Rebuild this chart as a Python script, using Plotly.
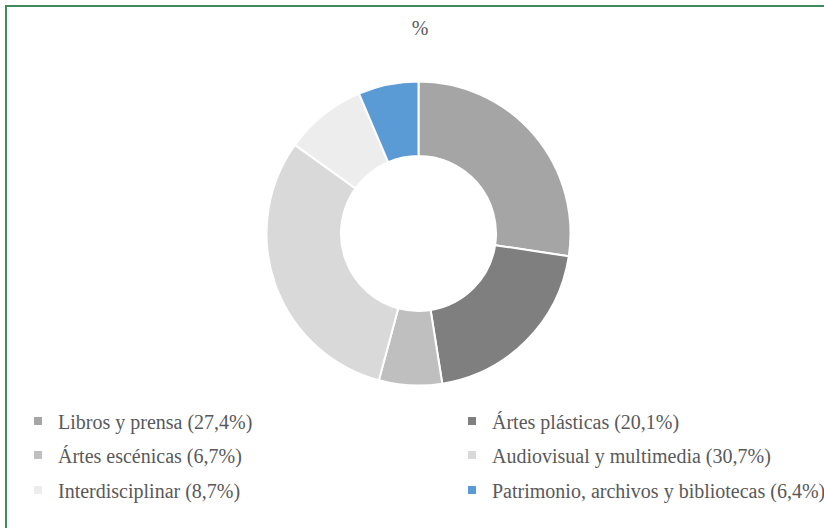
import plotly.graph_objects as go

# Datos
categorias = ["Libros y prensa", "Ártes plásticas", "Ártes escénicas",
              "Audiovisual y multimedia", "Interdisciplinar",
              "Patrimonio, archivos y bibliotecas"]
porcentajes = [27.4, 20.1, 6.7, 30.7, 8.7, 6.4]
colores = ["#A5A5A5", "#7F7F7F", "#BFBFBF", "#D9D9D9", "#EDEDED", "#5B9BD5"]

W, H = 824, 528
TXT = "#595959"
FONT = "Liberation Serif, Times New Roman, serif"

etiquetas = [f"{c} ({str(p).replace('.', ',')}%)" for c, p in zip(categorias, porcentajes)]

fig = go.Figure()

# donut
cx, cy, r = 418.5, 233.5, 152
fig.add_trace(go.Pie(
    values=porcentajes, labels=etiquetas,
    sort=False, direction="clockwise", rotation=0,
    hole=0.51,
    marker=dict(colors=colores, line=dict(color="white", width=2)),
    textinfo="none", showlegend=False,
    domain=dict(x=[(cx - r) / W, (cx + r) / W],
                y=[1 - (cy + r) / H, 1 - (cy - r) / H]),
    hovertemplate="%{label}<extra></extra>",
))

# leyenda: una leyenda por entrada (2 columnas x 3 filas)
filas_y = [421, 455, 490]
cols_x = [18, 452]
layout_legends = {}
for i, (lab, col) in enumerate(zip(etiquetas, colores)):
    name = "legend" if i == 0 else f"legend{i + 1}"
    fig.add_trace(go.Scatter(
        x=[None], y=[None], mode="markers", name=lab,
        marker=dict(symbol="square", size=8, color=col),
        legend=name, showlegend=True,
    ))
    layout_legends[name] = dict(
        orientation="h", xanchor="left", yanchor="middle",
        x=cols_x[i % 2] / W, y=1 - filas_y[i // 2] / H,
        font=dict(family=FONT, size=20, color=TXT),
        bgcolor="rgba(0,0,0,0)", itemwidth=30,
    )

fig.update_layout(
    width=W, height=H,
    margin=dict(l=0, r=0, t=0, b=0, autoexpand=False),
    paper_bgcolor="white", plot_bgcolor="white",
    font=dict(family=FONT, color=TXT),
    title=dict(text="%", x=420 / W, xanchor="center",
               y=1 - 28 / H, yanchor="middle", yref="container",
               font=dict(family=FONT, size=20, color=TXT)),
    xaxis=dict(visible=False), yaxis=dict(visible=False),
    **layout_legends,
)

# borde verde del área del gráfico (recortado a la derecha y abajo)
fig.add_shape(type="rect", xref="paper", yref="paper",
              x0=6 / W, x1=1.1, y0=-0.1, y1=1 - 6 / H,
              line=dict(color="#3F8A5A", width=2), layer="above")

fig.write_html("out.html", config={"displayModeBar": False},
               post_script="document.body.style.margin='0';")
